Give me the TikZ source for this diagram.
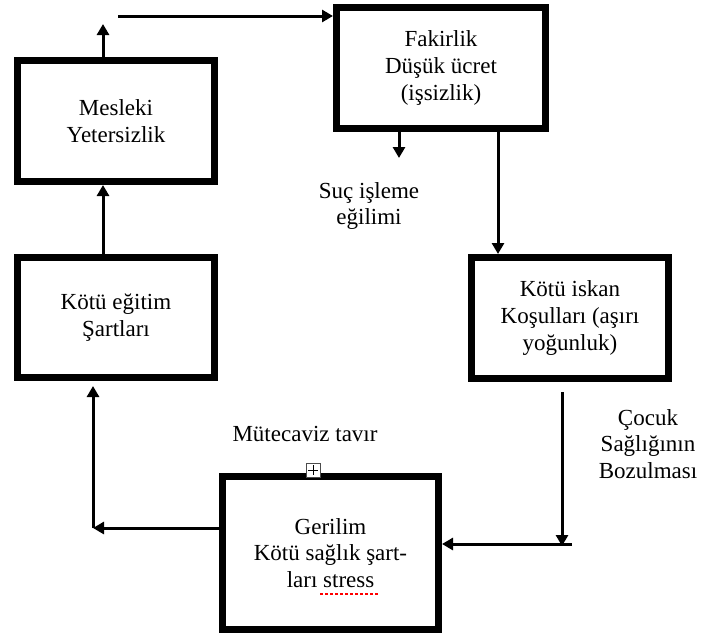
\documentclass[tikz,border=0pt]{standalone}
\usepackage{fontspec}
\setmainfont{Liberation Serif}
\usetikzlibrary{arrows.meta,calc}
\begin{document}
\begin{tikzpicture}[x=0.5pt,y=-0.5pt,
  box/.style={draw=black,line width=3.5pt,fill=white,align=center,inner sep=0pt},
  arr/.style={line width=1.5pt,-{Triangle[length=5.5pt,width=6pt]}},
  lbl/.style={align=center,inner sep=0pt},
  font=\fontsize{11.5}{13.3}\selectfont]
\useasboundingbox (0,0) rectangle (705,637);
% boxes
\node[box,minimum width=98.5pt,minimum height=60.5pt] (mes) at (116,121) {Mesleki\\Yetersizlik};
\node[box,minimum width=104.5pt,minimum height=60.5pt] (fak) at (441,68) {Fakirlik\\Düşük ücret\\(işsizlik)};
\node[box,minimum width=98.5pt,minimum height=60.5pt] (isk) at (570,318) {Kötü iskan\\Koşulları (aşırı\\yoğunluk)};
\node[box,minimum width=98.5pt,minimum height=60pt] (egi) at (116,317.5) {Kötü eğitim\\Şartları};
\node[box,minimum width=108pt,minimum height=76.5pt] (ger) at (330.5,553) {Gerilim\\Kötü sağlık şart-\\ları stress};
% labels
\node[lbl] (suc) at (369,206) {Suç işleme\\eğilimi};
\node[lbl] (mut) at (305,434) {Mütecaviz tavır};
\node[lbl] (coc) at (648,444) {Çocuk\\Sağlığının\\Bozulması};
% plus marker
\node[draw=black!70,fill=white,line width=0.5pt,minimum size=7pt,inner sep=0pt] (plus) at (313,470) {};
\draw[line width=0.5pt] ($(plus.center)+(-5,0)$) -- ($(plus.center)+(5,0)$)
  ($(plus.center)+(0,-5)$) -- ($(plus.center)+(0,5)$);
% spell underline
\draw[red,line width=0.8pt,dash pattern=on 1.5pt off 1pt] (320,594) -- (379,594);
% coordinates
\coordinate (c1) at (103,24);
\coordinate (c2) at (118,16);
\coordinate (c3) at (399,158);
\coordinate (c4) at (498,0);
\coordinate (c5) at (562,392);
\coordinate (c6) at (562,546);
\coordinate (c7) at (572,544);
\coordinate (c8) at (93,528);
% connectors
\draw[arr] ([xshift=-6.5pt]egi.north) -- ([xshift=-6.5pt]mes.south);
\draw[arr] ([xshift=-6.5pt]mes.north) -- (c1);
\draw[arr] (c2) -- (c2 -| fak.west);
\draw[arr] (c3 |- fak.south) -- (c3);
\draw[arr] (c4 |- fak.south) -- (c4 |- isk.north);
\draw[arr] (c5) -- (c6);
\draw[arr] (c7) -- (c7 -| ger.east);
\draw[arr] (c8 -| ger.west) -- (c8);
\draw[arr] (c8) -- ([yshift=-2.5pt]c8 |- egi.south);
\end{tikzpicture}
\end{document}
